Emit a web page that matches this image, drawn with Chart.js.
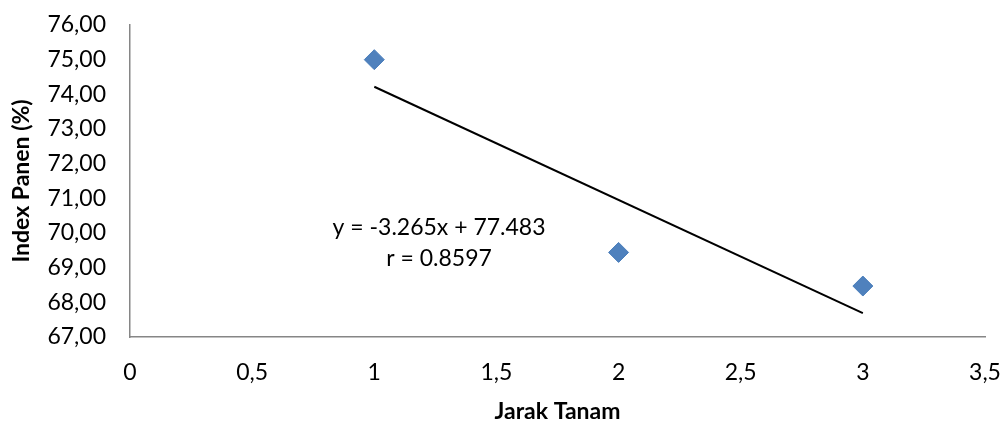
<!DOCTYPE html>
<html>
<head>
<meta charset="utf-8">
<script src="https://cdn.jsdelivr.net/npm/chart.js@4"></script>
<style>
  html, body { margin: 0; padding: 0; background: #fff; }
  #wrap { width: 1008px; height: 421px; }
</style>
</head>
<body>
<div id="wrap"><canvas id="c" width="1008" height="421"></canvas></div>
<script>
// Observed data: planting distance vs harvest index
const jarakTanam = [1, 2, 3];
const indexPanen = [75.00, 69.44, 68.47];

// Linear fit as printed on the chart
const slope = -3.265;
const intercept = 77.483;
const rValue = 0.8597;
const trendX = [1, 3];

// Axis ranges and steps
const xRange = [0, 3.5, 0.5];
const yRange = [67, 76, 1];

const FONT = 'Lato, "Open Sans", sans-serif';
const FS = 23;

const pointData = jarakTanam.map((x, i) => ({ x, y: indexPanen[i] }));
const trendData = trendX.map(x => ({ x, y: slope * x + intercept }));

// Equation and correlation text placed beside the fitted line
const eqLabel = {
  id: 'eqLabel',
  afterDatasetsDraw(chart) {
    const { ctx, scales } = chart;
    const cx = scales.x.getPixelForValue(1.265);
    const cy = scales.y.getPixelForValue(70.15);
    ctx.save();
    ctx.fillStyle = '#000';
    ctx.font = FS + 'px ' + FONT;
    ctx.textAlign = 'center';
    ctx.textBaseline = 'middle';
    ctx.fillText('y = ' + slope + 'x + ' + intercept, cx, cy);
    ctx.fillText('r = ' + rValue, cx, cy + 31);
    ctx.restore();
  }
};

const comma = v => String(v).replace('.', ',');

new Chart(document.getElementById('c'), {
  type: 'scatter',
  data: {
    datasets: [
      {
        label: 'Index Panen',
        data: pointData,
        pointStyle: 'rectRot',
        pointRadius: 10,
        pointHoverRadius: 10,
        backgroundColor: '#4F81BD',
        borderColor: '#4A7EBB',
        borderWidth: 1,
        order: 1
      },
      {
        label: 'Linear',
        data: trendData,
        showLine: true,
        pointRadius: 0,
        borderColor: '#000',
        borderWidth: 2,
        fill: false,
        order: 2
      }
    ]
  },
  options: {
    responsive: false,
    animation: false,
    events: [],
    layout: { padding: { top: 25, right: 23, left: 0, bottom: 0 } },
    plugins: {
      legend: { display: false },
      tooltip: { enabled: false }
    },
    scales: {
      x: {
        type: 'linear',
        min: xRange[0], max: xRange[1],
        afterFit(s) {
          s.height = 84;
          s.paddingLeft = 0;
          s.paddingRight = 0;
        },
        grid: { display: false, drawTicks: false },
        border: { display: true, color: '#868686', width: 1.5 },
        ticks: {
          stepSize: xRange[2],
          padding: 22,
          color: '#000',
          font: { family: FONT, size: FS },
          maxRotation: 0,
          callback: v => comma(v)
        },
        title: {
          display: true,
          text: 'Jarak Tanam',
          color: '#000',
          font: { family: FONT, size: FS, weight: 'bold', lineHeight: 0.85 },
          padding: { top: 0, bottom: 0 }
        }
      },
      y: {
        type: 'linear',
        min: yRange[0], max: yRange[1],
        afterFit(s) {
          s.width = 130;
          s.paddingTop = 0;
          s.paddingBottom = 0;
        },
        grid: { display: false, drawTicks: false },
        border: { display: true, color: '#868686', width: 1.5 },
        ticks: {
          stepSize: yRange[2],
          padding: 24,
          color: '#000',
          font: { family: FONT, size: FS },
          callback: v => comma(v.toFixed(2))
        },
        title: {
          display: true,
          text: 'Index Panen (%)',
          color: '#000',
          font: { family: FONT, size: FS, weight: 'bold', lineHeight: 1.0 },
          padding: { top: 10, bottom: 0 }
        }
      }
    }
  },
  plugins: [eqLabel]
});
</script>
</body>
</html>
